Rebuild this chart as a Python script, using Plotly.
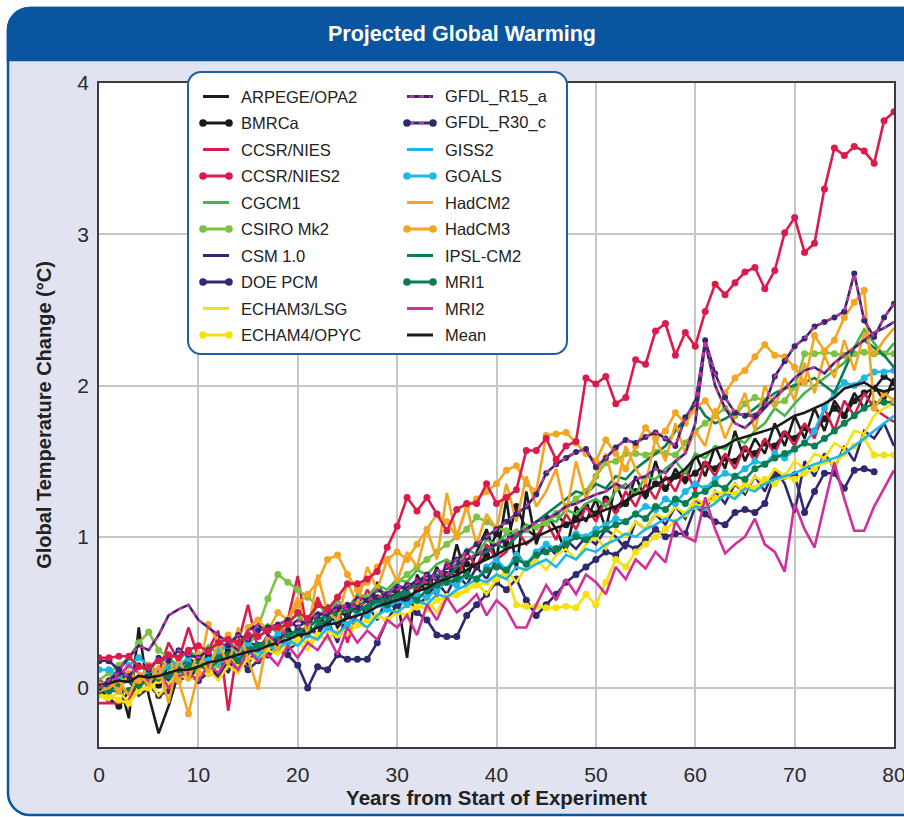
import plotly.graph_objects as go

# ---------------------------------------------------------------------------
# Data: global mean temperature change (°C) per model, years 0..80
# ---------------------------------------------------------------------------
years = list(range(81))

arpege_opa2 = [0.00, -0.02, 0.05, -0.20, 0.40, -0.05, -0.30, -0.12, 0.10, 0.05,
               0.15, 0.20, 0.05, 0.25, 0.18, 0.30, 0.22, 0.35, 0.28, 0.40,
               0.30, 0.42, 0.35, 0.55, 0.40, 0.48, 0.62, 0.45, 0.70, 0.55,
               0.60, 0.20, 0.75, 0.62, 0.80, 0.68, 0.95, 0.72, 0.90, 1.05,
               0.85, 1.25, 0.78, 1.30, 0.95, 1.15, 1.05, 0.90, 1.20, 1.10,
               1.25, 1.05, 1.35, 1.20, 1.40, 1.25, 1.50, 1.30, 1.45, 1.35,
               1.55, 1.40, 1.60, 1.45, 1.70, 1.50, 1.65, 1.55, 1.75, 1.60,
               1.80, 1.65, 1.85, 1.70, 1.90, 1.80, 1.95, 1.85, 2.00, 1.90,
               2.05]
bmrca = [0.00, -0.07, -0.12, -0.02, 0.05, 0.10, 0.02, 0.15, 0.12, 0.20,
         0.15, 0.22, 0.18, 0.25, 0.22, 0.30, 0.28, 0.32, 0.30, 0.38,
         0.35, 0.40, 0.45, 0.42, 0.50, 0.48, 0.55, 0.52, 0.58, 0.60,
         0.62, 0.58, 0.65, 0.70, 0.68, 0.75, 0.78, 0.82, 0.80, 0.88,
         1.02, 0.95, 1.20, 1.05, 1.00, 1.10, 1.15, 1.08, 1.12, 1.20,
         1.15, 1.25, 1.18, 1.22, 1.30, 1.28, 1.35, 1.32, 1.40, 1.38,
         1.42, 1.48, 1.45, 1.52, 1.50, 1.58, 1.55, 1.62, 1.60, 1.68,
         1.65, 1.72, 1.70, 1.78, 1.85, 1.80, 1.90, 1.95, 1.98, 2.06,
         2.02]
ccsr_nies = [-0.10, -0.10, -0.10, -0.08, 0.05, 0.15, 0.10, 0.30, 0.18, 0.40,
             0.20, 0.25, 0.38, -0.15, 0.30, 0.55, 0.25, 0.35, 0.30, 0.45,
             0.74, 0.35, 0.60, 0.45, 0.55, 0.30, 0.50, 0.65, 0.55, 0.60,
             0.55, 0.70, 0.65, 0.75, 0.60, 0.85, 0.70, 0.90, 0.80, 0.95,
             0.85, 0.90, 1.05, 0.95, 1.00, 1.10, 0.98, 1.15, 1.05, 1.20,
             1.10, 1.25, 1.15, 1.30, 1.20, 1.35, 1.25, 1.40, 1.30, 1.45,
             1.30, 1.50, 1.40, 1.55, 1.45, 1.60, 1.50, 1.65, 1.55, 1.70,
             1.60, 1.75, 1.65, 1.85, 1.70, 1.90, 1.80, 1.95, 1.85, 1.80,
             1.76]
ccsr_nies2 = [0.20, 0.20, 0.21, 0.21, 0.14, 0.14, 0.18, 0.22, 0.20, 0.25,
              0.28, 0.24, 0.30, 0.32, 0.30, 0.35, 0.34, 0.38, 0.40, 0.42,
              0.50, 0.46, 0.55, 0.52, 0.60, 0.69, 0.69, 0.72, 0.77, 0.93,
              1.07, 1.26, 1.17, 1.26, 1.15, 1.04, 1.18, 1.22, 1.22, 1.35,
              1.22, 1.26, 1.31, 1.57, 1.57, 1.65, 1.51, 1.60, 1.63, 2.05,
              2.01, 2.06, 1.88, 1.92, 2.17, 2.14, 2.36, 2.41, 2.20, 2.35,
              2.26, 2.49, 2.67, 2.60, 2.68, 2.75, 2.78, 2.64, 2.76, 3.01,
              3.11, 2.88, 2.94, 3.30, 3.57, 3.52, 3.58, 3.55, 3.47, 3.75,
              3.81]
cgcm1 = [0.00, 0.02, 0.08, 0.05, 0.15, 0.10, 0.20, 0.12, 0.18, 0.25,
         0.20, 0.28, 0.22, 0.30, 0.35, 0.28, 0.38, 0.42, 0.36, 0.45,
         0.48, 0.42, 0.55, 0.50, 0.58, 0.52, 0.62, 0.60, 0.68, 0.65,
         0.72, 0.70, 0.78, 0.75, 0.82, 0.85, 0.80, 0.92, 0.88, 0.98,
         0.95, 1.02, 1.00, 1.08, 1.05, 1.12, 1.10, 1.18, 1.15, 1.22,
         1.25, 1.20, 1.30, 1.35, 1.28, 1.40, 1.38, 1.45, 1.50, 1.42,
         1.55, 1.52, 1.60, 1.58, 1.65, 1.62, 1.70, 1.75, 1.85, 1.80,
         1.88, 1.95, 2.00, 2.05, 2.10, 2.15, 2.25, 2.37, 2.28, 2.20,
         2.28]
csiro_mk2 = [0.05, 0.10, 0.15, 0.20, 0.30, 0.37, 0.25, 0.20, 0.15, 0.10,
             0.05, 0.10, 0.15, 0.20, 0.25, 0.30, 0.40, 0.59, 0.75, 0.70,
             0.65, 0.60, 0.55, 0.52, 0.50, 0.52, 0.55, 0.60, 0.65, 0.62,
             0.70, 0.75, 0.80, 0.85, 0.90, 0.95, 1.00, 1.05, 1.13, 1.10,
             1.06, 1.04, 1.03, 1.05, 1.07, 1.09, 1.15, 1.20, 1.25, 1.30,
             1.40, 1.49, 1.50, 1.55, 1.55, 1.54, 1.56, 1.55, 1.54, 1.62,
             1.70, 1.75, 1.80, 1.85, 1.80, 1.88, 1.92, 1.90, 1.88, 1.90,
             1.99, 2.21, 2.21, 2.22, 2.21, 2.20, 2.21, 2.22, 2.21, 2.21,
             2.21]
csm_10 = [0.05, 0.00, 0.10, 0.05, -0.05, 0.00, 0.10, 0.05, 0.15, 0.10,
          0.05, 0.15, 0.20, 0.10, 0.25, 0.15, 0.30, 0.20, 0.35, 0.25,
          0.30, 0.40, 0.35, 0.45, 0.30, 0.50, 0.40, 0.55, 0.45, 0.60,
          0.50, 0.65, 0.55, 0.60, 0.70, 0.62, 0.75, 0.68, 0.80, 0.72,
          0.85, 0.75, 0.90, 0.80, 0.85, 0.95, 0.88, 0.98, 0.92, 1.00,
          0.95, 1.05, 1.00, 0.92, 1.10, 1.05, 1.15, 1.08, 1.20, 1.12,
          1.25, 1.18, 1.30, 1.22, 1.35, 1.28, 1.40, 1.30, 1.45, 1.35,
          1.16, 1.50, 1.40, 1.55, 1.45, 1.60, 1.50, 1.70, 1.65, 1.75,
          1.60]
doe_pcm = [0.18, 0.18, 0.12, 0.08, 0.05, 0.02, -0.05, -0.02, 0.05, 0.08,
           0.05, 0.10, 0.08, 0.15, 0.20, 0.12, 0.18, 0.22, 0.25, 0.22,
           0.15, 0.00, 0.14, 0.12, 0.22, 0.19, 0.19, 0.19, 0.30, 0.45,
           0.55, 0.60, 0.50, 0.45, 0.35, 0.34, 0.34, 0.48, 0.55, 0.62,
           0.70, 0.65, 0.72, 0.58, 0.48, 0.55, 0.62, 0.70, 0.75, 0.80,
           0.85, 0.90, 0.88, 0.95, 0.92, 0.98, 1.05, 1.00, 1.02, 1.02,
           1.20, 1.15, 1.10, 1.08, 1.16, 1.18, 1.16, 1.22, 1.41, 1.40,
           1.41, 1.16, 1.30, 1.42, 1.42, 1.32, 1.44, 1.45, 1.43, None,
           None]
echam3_lsg = [-0.05, -0.08, -0.02, -0.10, 0.00, 0.05, -0.05, 0.02, 0.10, 0.05,
              0.08, 0.12, 0.05, 0.15, 0.10, 0.20, 0.18, 0.25, 0.22, 0.28,
              0.30, 0.25, 0.35, 0.32, 0.38, 0.35, 0.42, 0.40, 0.48, 0.45,
              0.50, 0.55, 0.52, 0.58, 0.50, 0.62, 0.60, 0.65, 0.70, 0.62,
              0.72, 0.78, 0.70, 0.80, 0.85, 0.78, 0.88, 0.92, 0.85, 0.95,
              1.00, 0.92, 1.05, 1.00, 1.10, 1.05, 1.15, 1.12, 1.20, 1.15,
              1.25, 1.22, 1.30, 1.28, 1.35, 1.30, 1.40, 1.35, 1.45, 1.40,
              1.50, 1.45, 1.55, 1.52, 1.62, 1.58, 1.70, 1.68, 1.80, 1.85,
              1.88]
echam4_opyc = [-0.05, -0.05, -0.08, -0.10, -0.02, 0.00, 0.05, 0.02, 0.10, 0.12,
               0.15, 0.10, 0.18, 0.20, 0.15, 0.25, 0.22, 0.28, 0.25, 0.30,
               0.32, 0.30, 0.35, 0.38, 0.35, 0.40, 0.42, 0.45, 0.48, 0.45,
               0.50, 0.48, 0.55, 0.52, 0.58, 0.60, 0.62, 0.65, 0.68, 0.70,
               0.72, 0.75, 0.55, 0.54, 0.54, 0.53, 0.53, 0.54, 0.53, 0.62,
               0.55, 0.70, 0.85, 0.80, 0.90, 0.95, 1.00, 1.05, 1.10, 1.15,
               1.20, 1.22, 1.25, 1.30, 1.28, 1.35, 1.32, 1.38, 1.35, 1.40,
               1.38, 1.42, 1.45, 1.50, 1.48, 1.55, 1.60, 1.65, 1.54, 1.54,
               1.54]
gfdl_r15_a = [0.00, 0.05, 0.12, 0.20, 0.28, 0.25, 0.35, 0.48, 0.52, 0.55,
              0.45, 0.40, 0.35, 0.30, 0.25, 0.38, 0.42, 0.35, 0.30, 0.40,
              0.45, 0.42, 0.50, 0.48, 0.55, 0.52, 0.60, 0.58, 0.65, 0.62,
              0.68, 0.65, 0.72, 0.70, 0.78, 0.75, 0.82, 0.85, 0.88, 0.92,
              0.95, 0.98, 1.02, 1.05, 1.10, 1.12, 1.15, 1.20, 1.22, 1.25,
              1.28, 1.30, 1.35, 1.32, 1.38, 1.40, 1.45, 1.42, 1.50, 1.55,
              1.75, 2.28, 2.00, 1.85, 1.75, 1.72, 1.78, 1.85, 1.92, 1.98,
              2.05, 2.10, 2.12, 2.08, 2.15, 2.20, 2.25, 2.30, 2.35, 2.38,
              2.42]
gfdl_r30_c = [0.00, 0.05, 0.10, 0.08, 0.15, 0.12, 0.20, 0.18, 0.25, 0.22,
              0.20, 0.25, 0.30, 0.28, 0.35, 0.32, 0.38, 0.40, 0.42, 0.45,
              0.40, 0.45, 0.48, 0.50, 0.52, 0.55, 0.53, 0.58, 0.60, 0.62,
              0.65, 0.68, 0.70, 0.75, 0.72, 0.80, 0.85, 0.90, 0.95, 1.00,
              1.05, 1.10, 1.15, 1.20, 1.28, 1.42, 1.48, 1.52, 1.56, 1.58,
              1.46, 1.52, 1.59, 1.64, 1.62, 1.66, 1.69, 1.65, 1.60, 1.79,
              1.88, 2.30, 2.08, 1.92, 1.82, 1.80, 1.80, 1.87, 2.06, 2.16,
              2.26, 2.31, 2.39, 2.42, 2.45, 2.49, 2.74, 2.43, 2.32, 2.45,
              2.54]
giss2 = [0.05, 0.02, 0.08, 0.10, 0.05, 0.12, 0.08, 0.15, 0.10, 0.18,
         0.12, 0.20, 0.15, 0.22, 0.18, 0.25, 0.20, 0.28, 0.25, 0.32,
         0.28, 0.35, 0.32, 0.40, 0.36, 0.42, 0.45, 0.40, 0.48, 0.52,
         0.50, 0.55, 0.58, 0.55, 0.62, 0.60, 0.65, 0.68, 0.72, 0.70,
         0.75, 0.72, 0.80, 0.78, 0.82, 0.85, 0.80, 0.88, 0.85, 0.92,
         0.90, 0.95, 0.98, 1.02, 1.00, 1.05, 1.08, 1.12, 1.10, 1.15,
         1.20, 1.18, 1.22, 1.28, 1.25, 1.32, 1.30, 1.35, 1.38, 1.40,
         1.42, 1.45, 1.48, 1.50, 1.52, 1.55, 1.60, 1.65, 1.70, 1.75,
         1.80]
goals = [0.12, 0.12, 0.08, 0.15, 0.20, 0.15, 0.10, 0.18, 0.15, 0.20,
         0.22, 0.18, 0.25, 0.28, 0.22, 0.30, 0.25, 0.32, 0.35, 0.30,
         0.38, 0.35, 0.42, 0.40, 0.45, 0.42, 0.50, 0.48, 0.55, 0.52,
         0.58, 0.55, 0.62, 0.60, 0.65, 0.70, 0.68, 0.75, 0.72, 0.80,
         0.85, 0.78, 0.88, 0.82, 0.90, 0.95, 0.92, 0.98, 1.02, 1.00,
         1.05, 1.08, 1.12, 1.10, 1.15, 1.20, 1.18, 1.25, 1.22, 1.30,
         1.35, 1.32, 1.38, 1.42, 1.40, 1.45, 1.50, 1.48, 1.55, 1.52,
         1.58, 1.62, 1.70, 1.85, 1.95, 2.02, 2.00, 2.05, 2.09, 2.09,
         2.10]
hadcm2 = [-0.02, 0.00, 0.05, -0.05, 0.10, 0.02, 0.15, -0.10, 0.20, 0.05,
          0.25, 0.10, 0.30, 0.15, 0.40, 0.20, -0.01, 0.35, 0.25, 0.45,
          0.60, 0.35, 0.75, 0.50, 0.45, 0.70, 0.55, 0.80, 0.65, 0.85,
          0.70, 0.90, 0.80, 1.05, 0.85, 1.29, 1.00, 1.20, 0.95, 1.15,
          1.05, 1.35, 1.10, 1.40, 1.20, 1.30, 1.45, 1.15, 1.50, 1.25,
          1.40, 1.55, 1.30, 1.60, 1.45, 1.35, 1.65, 1.50, 1.75, 1.55,
          1.70, 1.60, 1.85, 1.65, 1.80, 1.95, 1.70, 2.00, 1.85, 2.05,
          1.90, 2.15, 1.95, 2.20, 2.05, 2.30, 2.10, 2.35, 2.20, 2.30,
          2.38]
hadcm3 = [0.02, 0.05, -0.02, 0.10, 0.05, 0.15, 0.08, 0.20, 0.05, -0.17,
          0.10, 0.42, 0.30, 0.35, 0.25, 0.40, 0.45, 0.38, 0.50, 0.45,
          0.55, 0.62, 0.70, 0.85, 0.88, 0.75, 0.65, 0.70, 0.80, 0.85,
          0.90, 0.85, 0.95, 1.05, 1.15, 1.10, 1.00, 1.20, 1.25, 1.30,
          1.35, 1.44, 1.47, 1.35, 1.30, 1.67, 1.68, 1.69, 1.62, 1.55,
          1.50, 1.64, 1.55, 1.45, 1.60, 1.72, 1.65, 1.70, 1.82, 1.75,
          1.85, 1.90, 1.80, 1.95, 2.05, 2.10, 2.19, 2.27, 2.20, 2.19,
          2.12, 2.02, 2.33, 2.23, 2.30, 2.45, 2.55, 2.63, 1.85, 1.95,
          1.90]
ipsl_cm2 = [0.00, -0.02, 0.02, 0.05, 0.00, 0.08, 0.05, 0.10, 0.12, 0.08,
            0.15, 0.12, 0.18, 0.20, 0.25, 0.22, 0.30, 0.28, 0.32, 0.35,
            0.38, 0.35, 0.42, 0.45, 0.48, 0.52, 0.50, 0.55, 0.60, 0.58,
            0.62, 0.65, 0.68, 0.70, 0.75, 0.72, 0.80, 0.85, 0.88, 0.90,
            0.95, 0.92, 1.00, 1.05, 1.10, 1.15, 1.20, 1.25, 1.30, 1.28,
            1.35, 1.32, 1.40, 1.38, 1.45, 1.50, 1.55, 1.60, 1.70, 1.78,
            1.90, 1.80, 1.75, 1.78, 1.82, 1.80, 1.85, 1.90, 1.95, 1.98,
            2.00, 2.02, 2.05, 2.00, 1.95, 2.10, 2.25, 2.30, 2.25, 2.20,
            2.12]
mri1 = [-0.02, -0.02, -0.02, -0.02, 0.02, 0.05, 0.10, 0.08, 0.12, 0.15,
        0.18, 0.15, 0.20, 0.22, 0.18, 0.25, 0.28, 0.30, 0.32, 0.35,
        0.38, 0.40, 0.45, 0.48, 0.50, 0.52, 0.55, 0.52, 0.58, 0.55,
        0.60, 0.62, 0.58, 0.65, 0.68, 0.70, 0.72, 0.75, 0.72, 0.78,
        0.80, 0.78, 0.85, 0.82, 0.88, 0.90, 0.92, 0.95, 1.00, 0.98,
        1.02, 1.05, 1.08, 1.10, 1.15, 1.12, 1.20, 1.18, 1.25, 1.22,
        1.28, 1.30, 1.35, 1.32, 1.40, 1.38, 1.45, 1.48, 1.52, 1.55,
        1.58, 1.62, 1.60, 1.65, 1.70, 1.75, 1.80, 1.85, 1.88, 1.89,
        1.89]
mri2 = [0.05, 0.02, 0.08, 0.15, 0.10, 0.05, 0.12, 0.00, 0.08, 0.10,
        0.05, 0.15, 0.10, 0.20, 0.12, 0.25, 0.18, 0.22, 0.15, 0.28,
        0.20, 0.30, 0.25, 0.35, 0.22, 0.40, 0.30, 0.38, 0.32, 0.45,
        0.40, 0.48, 0.35, 0.55, 0.45, 0.60, 0.50, 0.55, 0.62, 0.48,
        0.58, 0.52, 0.40, 0.40, 0.55, 0.68, 0.58, 0.72, 0.62, 0.75,
        0.70, 0.62, 0.80, 0.72, 0.85, 0.79, 0.90, 0.83, 1.10, 1.00,
        0.97, 1.26, 1.05, 0.89, 0.95, 1.00, 1.12, 0.95, 0.90, 0.77,
        1.22, 1.05, 0.93, 1.20, 1.49, 1.25, 1.04, 1.04, 1.20, 1.32,
        1.44]
mean = [0.02, 0.03, 0.05, 0.04, 0.08, 0.07, 0.08, 0.10, 0.12, 0.12,
        0.14, 0.17, 0.18, 0.20, 0.22, 0.24, 0.25, 0.28, 0.30, 0.32,
        0.35, 0.36, 0.40, 0.42, 0.43, 0.46, 0.48, 0.50, 0.54, 0.56,
        0.58, 0.60, 0.64, 0.66, 0.70, 0.72, 0.75, 0.78, 0.82, 0.85,
        0.88, 0.92, 0.94, 0.96, 1.00, 1.03, 1.06, 1.08, 1.10, 1.12,
        1.15, 1.18, 1.20, 1.24, 1.28, 1.30, 1.34, 1.38, 1.40, 1.45,
        1.52, 1.55, 1.58, 1.60, 1.64, 1.66, 1.68, 1.70, 1.72, 1.76,
        1.80, 1.82, 1.85, 1.88, 1.92, 1.98, 2.00, 2.02, 1.98, 1.96,
        1.98]

# ---------------------------------------------------------------------------
# Styles
# ---------------------------------------------------------------------------
BLACK = "#1b1b1b"
CRIMSON = "#d91c4c"
GREEN = "#45b649"
LIGHTGREEN = "#7cc243"
NAVY = "#2f2a70"
YELLOW = "#f6e00f"
MAGENTA = "#d0309a"
CYAN = "#1db8e8"
ORANGE = "#f4a622"
DKGREEN = "#0b7d52"
BLUE = "#0a55a0"
PANEL = "#e1e3f0"

# name, values, colour, markers, dashed (navy base + magenta dash)
series = [
    ("ARPEGE/OPA2", arpege_opa2, BLACK, False, False),
    ("BMRCa", bmrca, BLACK, True, False),
    ("CCSR/NIES", ccsr_nies, CRIMSON, False, False),
    ("CGCM1", cgcm1, GREEN, False, False),
    ("CSIRO Mk2", csiro_mk2, LIGHTGREEN, True, False),
    ("CSM 1.0", csm_10, NAVY, False, False),
    ("DOE PCM", doe_pcm, NAVY, True, False),
    ("ECHAM3/LSG", echam3_lsg, YELLOW, False, False),
    ("ECHAM4/OPYC", echam4_opyc, YELLOW, True, False),
    ("GISS2", giss2, CYAN, False, False),
    ("GOALS", goals, CYAN, True, False),
    ("IPSL-CM2", ipsl_cm2, DKGREEN, False, False),
    ("MRI1", mri1, DKGREEN, True, False),
    ("MRI2", mri2, MAGENTA, False, False),
    ("HadCM2", hadcm2, ORANGE, False, False),
    ("HadCM3", hadcm3, ORANGE, True, False),
    ("Mean", mean, BLACK, False, False),
    ("GFDL_R15_a", gfdl_r15_a, NAVY, False, True),
    ("GFDL_R30_c", gfdl_r30_c, NAVY, True, True),
    ("CCSR/NIES2", ccsr_nies2, CRIMSON, True, False),
]

legend_left = ["ARPEGE/OPA2", "BMRCa", "CCSR/NIES", "CCSR/NIES2", "CGCM1",
               "CSIRO Mk2", "CSM 1.0", "DOE PCM", "ECHAM3/LSG", "ECHAM4/OPYC"]
legend_right = ["GFDL_R15_a", "GFDL_R30_c", "GISS2", "GOALS", "HadCM2",
                "HadCM3", "IPSL-CM2", "MRI1", "MRI2", "Mean"]

x_ticks = [0, 10, 20, 30, 40, 50, 60, 70, 80]
y_ticks = [0, 1, 2, 3, 4]

# ---------------------------------------------------------------------------
# Figure geometry (pixels)
# ---------------------------------------------------------------------------
W, H = 904, 817
ML, MR, MT, MB = 99, 10, 83, 70
PW, PH = W - ML - MR, H - MT - MB

LW = 2.6
MS = 7
SANS = "Liberation Sans, Arial, sans-serif"

fig = go.Figure()
for name, vals, color, markers, dashed in series:
    mode = "lines+markers" if markers else "lines"
    fig.add_trace(go.Scatter(
        x=years, y=vals, mode=mode, name=name, showlegend=False,
        line=dict(color=color, width=LW),
        marker=dict(color=color, size=MS if not dashed else 6),
        connectgaps=False, hoverinfo="name+x+y"))
    if dashed:
        fig.add_trace(go.Scatter(
            x=years, y=vals, mode="lines", name=name, showlegend=False,
            line=dict(color=MAGENTA, width=LW - 0.4, dash="5px,5px"),
            hoverinfo="skip"))


def px(x):
    return (x - ML) / PW


def py(y):
    return (H - MB - y) / PH


def rounded_path(x0, y0, x1, y1, r_tl=0, r_tr=0, r_br=0, r_bl=0):
    k = 0.5523

    def P(x, y):
        return f"{px(x):.5f},{py(y):.5f}"

    d = f"M {P(x0 + r_tl, y0)} L {P(x1 - r_tr, y0)} "
    if r_tr:
        d += f"C {P(x1 - r_tr + k * r_tr, y0)} {P(x1, y0 + r_tr - k * r_tr)} {P(x1, y0 + r_tr)} "
    d += f"L {P(x1, y1 - r_br)} "
    if r_br:
        d += f"C {P(x1, y1 - r_br + k * r_br)} {P(x1 - r_br + k * r_br, y1)} {P(x1 - r_br, y1)} "
    d += f"L {P(x0 + r_bl, y1)} "
    if r_bl:
        d += f"C {P(x0 + r_bl - k * r_bl, y1)} {P(x0, y1 - r_bl + k * r_bl)} {P(x0, y1 - r_bl)} "
    d += f"L {P(x0, y0 + r_tl)} "
    if r_tl:
        d += f"C {P(x0, y0 + r_tl - k * r_tl)} {P(x0 + r_tl - k * r_tl, y0)} {P(x0 + r_tl, y0)} "
    return d + "Z"


shapes = []
# outer panel and header band
shapes.append(dict(type="path", xref="paper", yref="paper", layer="below",
                   path=rounded_path(8, 8, 930, 815, r_tl=22, r_bl=22),
                   fillcolor=PANEL, line=dict(color=BLUE, width=2.5)))
shapes.append(dict(type="path", xref="paper", yref="paper", layer="below",
                   path=rounded_path(8, 8, 930, 60, r_tl=22),
                   fillcolor=BLUE, line=dict(color=BLUE, width=2.5)))
# white plotting area
shapes.append(dict(type="rect", xref="paper", yref="paper", layer="below",
                   x0=0, x1=1, y0=0, y1=1, fillcolor="white",
                   line=dict(width=0)))

# legend box
LX0, LY0, LX1, LY1 = 188, 72, 567, 354
shapes.append(dict(type="path", xref="paper", yref="paper", layer="above",
                   path=rounded_path(LX0, LY0, LX1, LY1, 13, 13, 13, 13),
                   fillcolor="white", line=dict(color="#1d5fa6", width=2)))

annotations = []
style = {name: (color, markers, dashed) for name, _, color, markers, dashed in series}
row_y0, row_dy = 96.5, 26.5
for col, names in enumerate([legend_left, legend_right]):
    sx0 = 203 if col == 0 else 407
    sx1 = sx0 + 26
    tx = 239 if col == 0 else 443
    for i, name in enumerate(names):
        color, markers, dashed = style[name]
        yy = row_y0 + i * row_dy
        shapes.append(dict(type="line", xref="paper", yref="paper", layer="above",
                           x0=px(sx0), x1=px(sx1), y0=py(yy), y1=py(yy),
                           line=dict(color=color, width=3)))
        if dashed:
            shapes.append(dict(type="line", xref="paper", yref="paper", layer="above",
                               x0=px(sx0 + 2), x1=px(sx1 - 2), y0=py(yy), y1=py(yy),
                               line=dict(color=MAGENTA, width=2.4, dash="5px,5px")))
        if markers:
            for cx in (sx0, sx1):
                r = 3.8
                shapes.append(dict(type="circle", xref="paper", yref="paper",
                                   layer="above",
                                   x0=px(cx - r), x1=px(cx + r),
                                   y0=py(yy + r), y1=py(yy - r),
                                   fillcolor=color if not dashed else NAVY,
                                   line=dict(width=0)))
        annotations.append(dict(xref="paper", yref="paper", x=px(tx), y=py(yy),
                                xanchor="left", yanchor="middle", showarrow=False,
                                text=name,
                                font=dict(family=SANS, size=16.5, color="#222222")))

# header title
annotations.append(dict(xref="paper", yref="paper", x=px(462), y=py(34),
                        xanchor="center", yanchor="middle", showarrow=False,
                        text="<b>Projected Global Warming</b>",
                        font=dict(family=SANS, size=21.5, color="white")))

fig.update_layout(
    width=W, height=H,
    margin=dict(l=ML, r=MR, t=MT, b=MB, pad=0, autoexpand=False),
    paper_bgcolor="white",
    plot_bgcolor="white",
    showlegend=False,
    shapes=shapes,
    annotations=annotations,
    xaxis=dict(range=[0, 80], tickvals=x_ticks, ticktext=[str(v) for v in x_ticks],
               automargin=False,
               showgrid=True, gridcolor="#c6c6c6", gridwidth=1.5,
               showline=True, linecolor="#3c3c3c", linewidth=1.5, mirror=True,
               zeroline=False, ticks="", ticklabelstandoff=8,
               ticklabeloverflow="allow",
               tickfont=dict(family=SANS, size=21, color="#2a2a2a"),
               title=dict(text="<b>Years from Start of Experiment</b>", standoff=0,
                          font=dict(family=SANS, size=20.5, color="#222222"))),
    yaxis=dict(range=[-0.39, 4.0], tickvals=y_ticks, ticktext=[str(v) for v in y_ticks],
               automargin=False,
               showgrid=True, gridcolor="#c6c6c6", gridwidth=1.5,
               showline=True, linecolor="#3c3c3c", linewidth=1.5, mirror=True,
               zeroline=False, ticks="", ticklabelstandoff=4,
               ticklabeloverflow="allow",
               tickfont=dict(family=SANS, size=21, color="#2a2a2a"),
               title=dict(text="<b>Global Temperature Change (°C)</b>", standoff=20,
                          font=dict(family=SANS, size=20, color="#222222"))),
)

fig.write_html("out.html")
